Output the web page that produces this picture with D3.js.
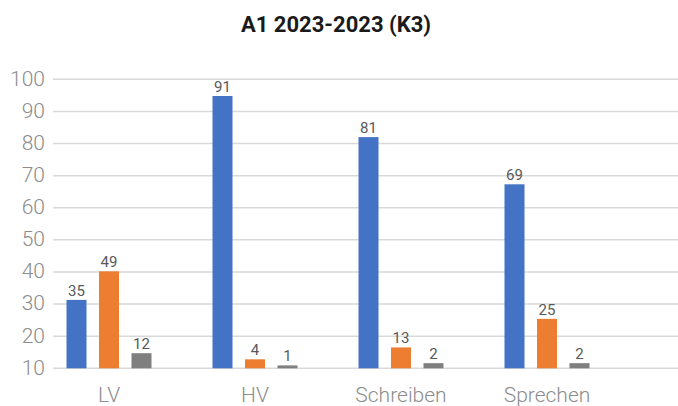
<!DOCTYPE html>
<html>
<head>
<meta charset="utf-8">
<script src="https://cdn.jsdelivr.net/npm/d3@7"></script>
<style>
  html, body { margin: 0; padding: 0; background: #fff; }
  svg { display: block; }
</style>
</head>
<body>
<svg id="chart" width="678" height="406"></svg>
<script>
// ---- data ----
const title = "A1 2023-2023 (K3)";
const categories = ["LV", "HV", "Schreiben", "Sprechen"];
const seriesNames = ["Serie 1", "Serie 2", "Serie 3"];
const seriesColors = ["#4472C4", "#ED7D31", "#7F7F7F"];
// bar heights as drawn
const series1Values = [31.3, 94.8, 82.0, 67.3];
const series2Values = [40.2, 12.8, 16.5, 25.4];
const series3Values = [14.7, 10.9, 11.6, 11.6];
// value labels as printed above the bars
const series1Labels = ["35", "91", "81", "69"];
const series2Labels = ["49", "4", "13", "25"];
const series3Labels = ["12", "1", "2", "2"];
const yTicks = [10, 20, 30, 40, 50, 60, 70, 80, 90, 100];

const allValues = [series1Values, series2Values, series3Values];
const allLabels = [series1Labels, series2Labels, series3Labels];

const svg = d3.select("#chart");
const plotLeft = 53, plotRight = 678;

const y = d3.scaleLinear().domain([10, 100]).range([368.3, 79.3]);
const x = d3.scaleBand().domain(categories).range([36, 620]).padding(0);
const xi = d3.scaleBand().domain(seriesNames).range([-42.5, 42.5])
  .paddingInner(0.3846).paddingOuter(0);

// title
svg.append("text")
  .attr("x", 336).attr("y", 32)
  .attr("text-anchor", "middle")
  .attr("font-family", "Roboto, 'Noto Sans', sans-serif")
  .attr("font-weight", "bold")
  .attr("font-size", 22)
  .attr("fill", "#1a1a1a")
  .text(title);

// gridlines
svg.append("g").selectAll("line").data(yTicks).join("line")
  .attr("x1", plotLeft).attr("x2", plotRight)
  .attr("y1", d => y(d)).attr("y2", d => y(d))
  .attr("stroke", "#d9d9d9").attr("stroke-width", 1.5);

// y axis labels
const yAxis = d3.axisLeft(y).tickValues(yTicks).tickSize(0).tickPadding(0);
const yg = svg.append("g").attr("transform", "translate(45,0)").call(yAxis);
yg.select(".domain").remove();
yg.selectAll("text")
  .attr("font-family", "Roboto, 'Noto Sans', sans-serif")
  .attr("font-size", 21)
  .attr("font-weight", 300)
  .attr("fill", "#8c8c8c")
  .attr("dy", "0.28em");

// x axis labels
const xAxis = d3.axisBottom(x).tickSize(0).tickPadding(0);
const xg = svg.append("g").attr("transform", "translate(0,386)").call(xAxis);
xg.select(".domain").remove();
xg.selectAll("text")
  .attr("font-family", "Roboto, 'Noto Sans', sans-serif")
  .attr("font-size", 21)
  .attr("font-weight", 300)
  .attr("fill", "#8c8c8c")
  .attr("dy", "0.75em");

// bars + labels
seriesNames.forEach((s, si) => {
  const rows = categories.map((c, ci) => ({ c, v: allValues[si][ci], l: allLabels[si][ci] }));
  const g = svg.append("g");
  g.selectAll("rect").data(rows).join("rect")
    .attr("x", d => x(d.c) + x.bandwidth() / 2 + xi(s))
    .attr("width", xi.bandwidth())
    .attr("y", d => y(d.v))
    .attr("height", d => y(10) - y(d.v))
    .attr("fill", seriesColors[si]);
  g.selectAll("text").data(rows).join("text")
    .attr("x", d => x(d.c) + x.bandwidth() / 2 + xi(s) + xi.bandwidth() / 2)
    .attr("y", d => y(d.v) - 4)
    .attr("text-anchor", "middle")
    .attr("font-family", "Roboto, 'Noto Sans', sans-serif")
    .attr("font-size", 15)
    .attr("fill", "#595959")
    .text(d => d.l);
});
</script>
</body>
</html>
